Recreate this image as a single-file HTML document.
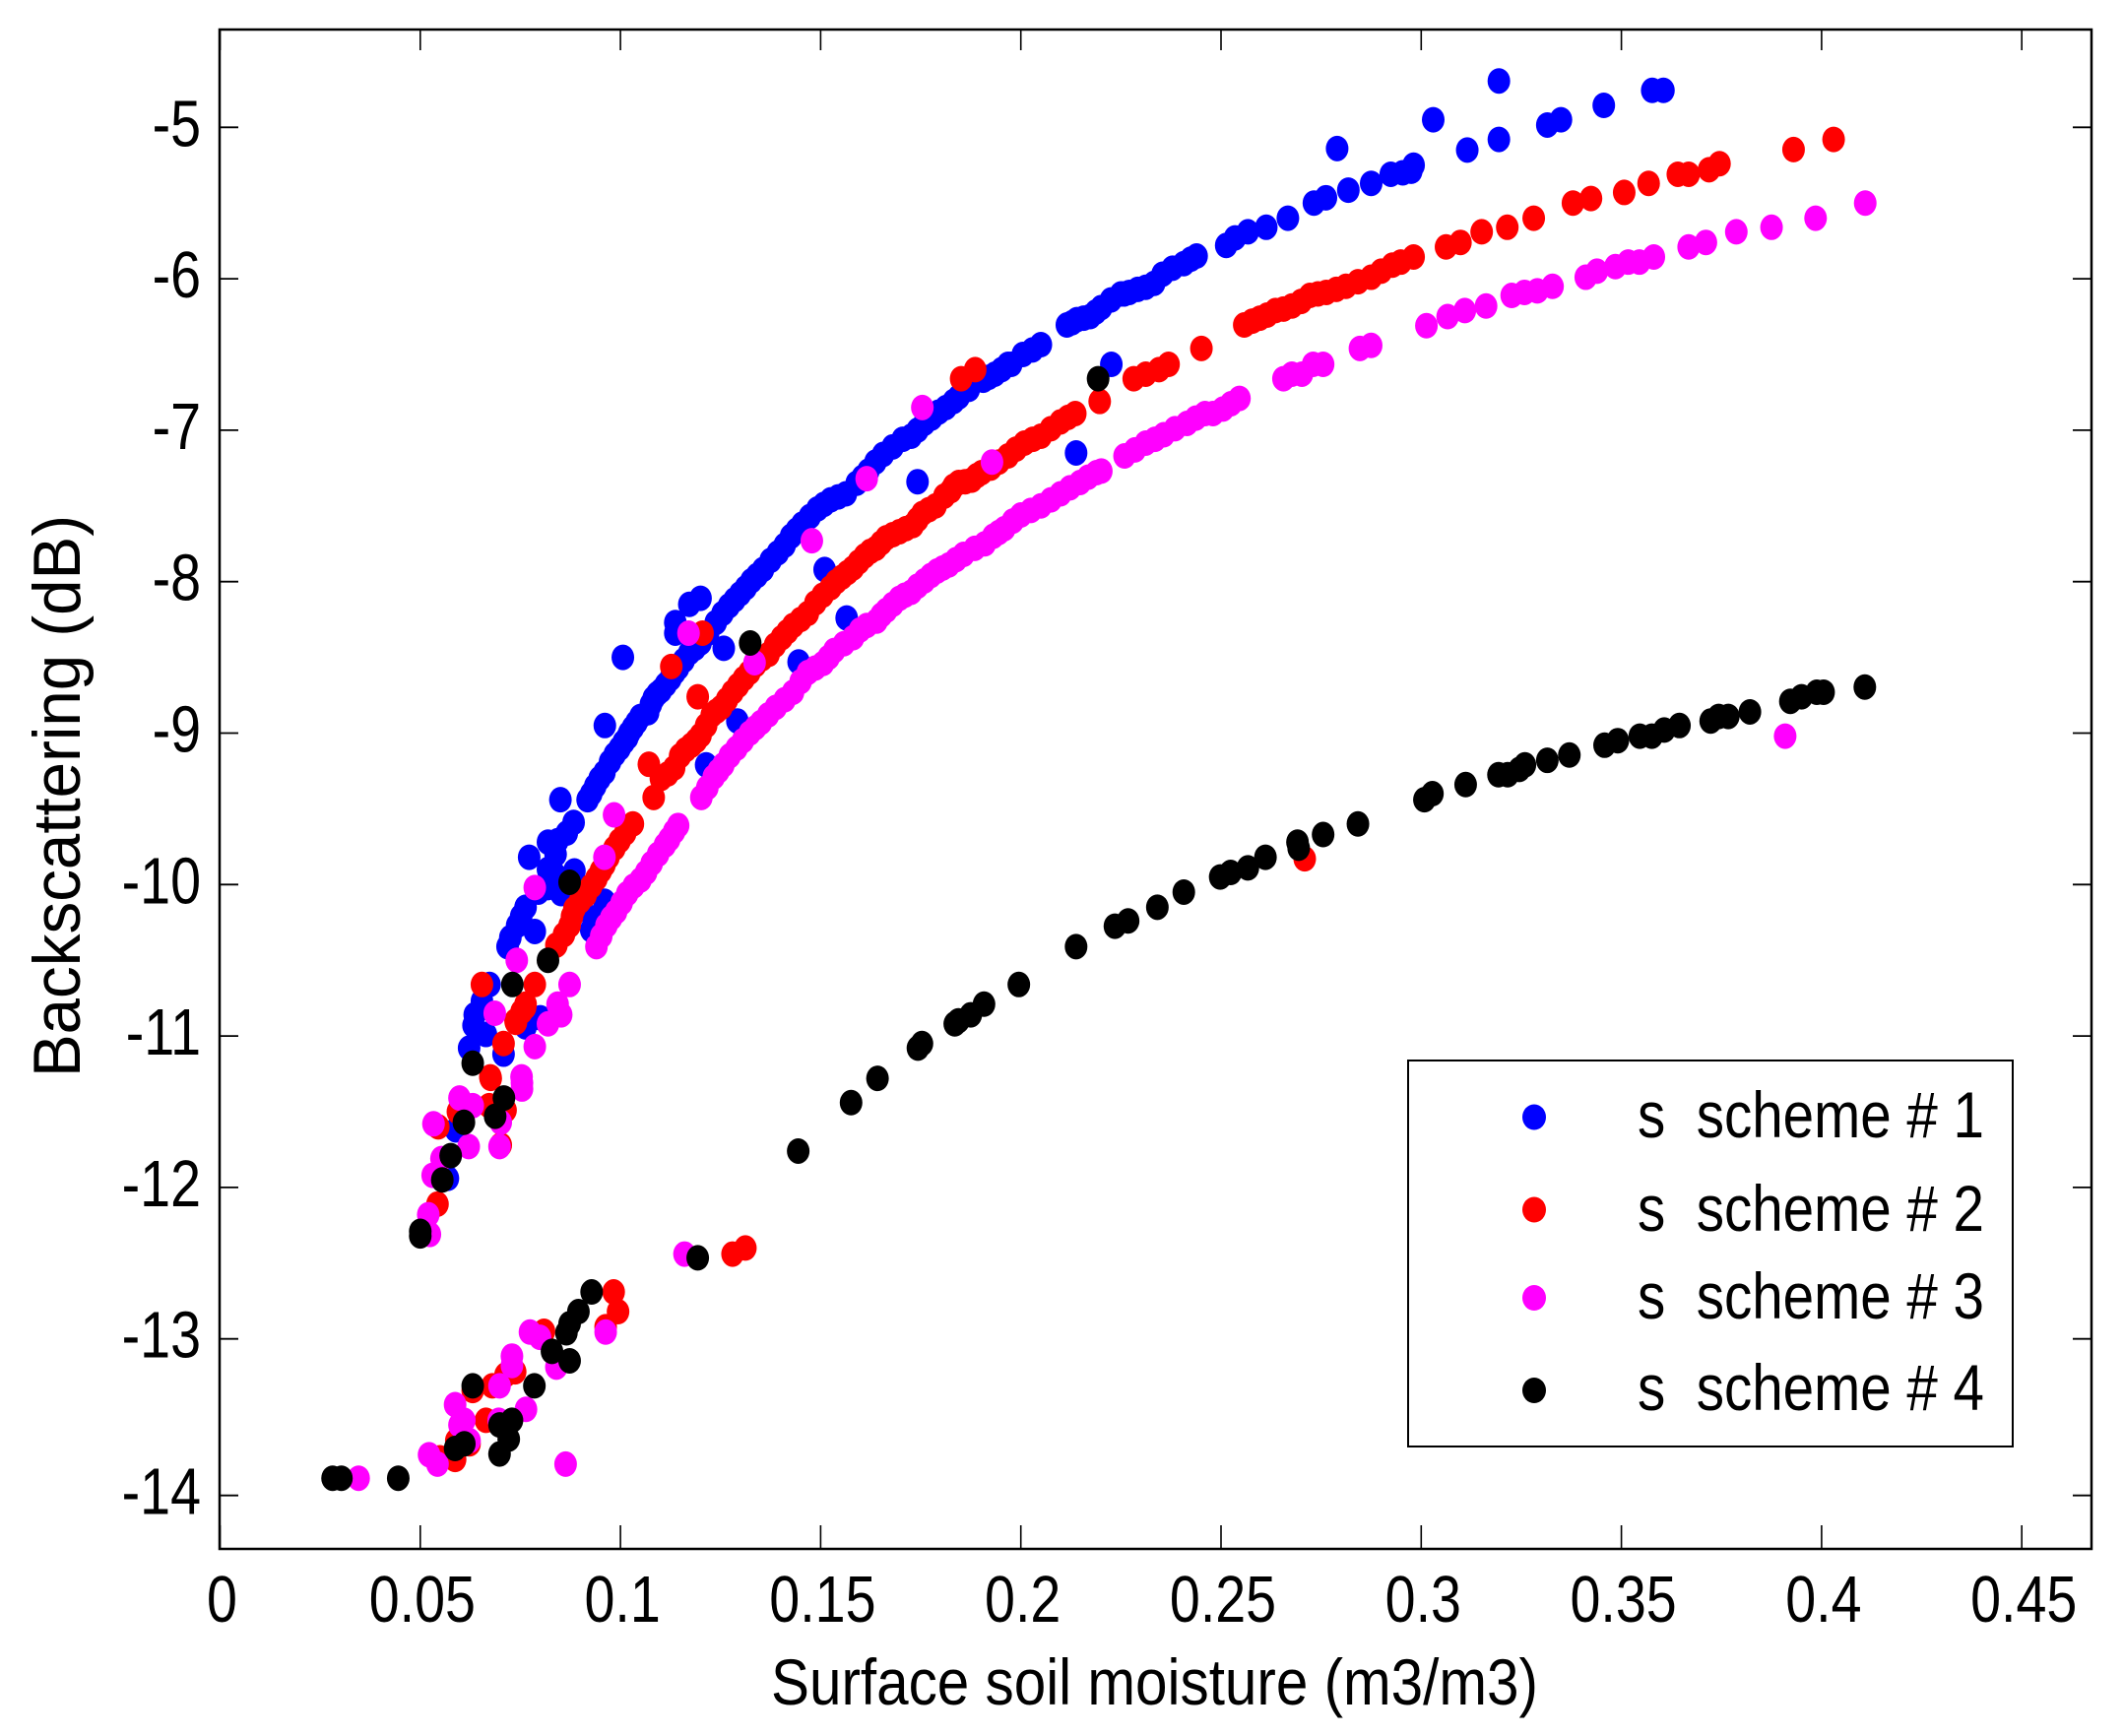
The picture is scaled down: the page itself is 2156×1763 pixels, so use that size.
<!DOCTYPE html>
<html>
<head>
<meta charset="utf-8">
<title>Backscattering vs surface soil moisture</title>
<style>
html,body{margin:0;padding:0;background:#fff;}
svg{display:block;}
text{font-family:"Liberation Sans",Arial,sans-serif;fill:#000;}
</style>
</head>
<body>
<svg id="chart" xmlns="http://www.w3.org/2000/svg" width="2156" height="1763" viewBox="0 0 2156 1763">
<rect x="0" y="0" width="2156" height="1763" fill="#fff"/>
<g id="ticks"></g>
<g id="marks"></g>
<rect x="223" y="30" width="1901" height="1543" fill="none" stroke="#000" stroke-width="2.5"/>
<g id="labels"></g>
<text x="783" y="1731" font-size="66" textLength="779" lengthAdjust="spacingAndGlyphs">Surface soil moisture (m3/m3)</text>
<text transform="translate(81,1094) rotate(-90)" font-size="68" textLength="571" lengthAdjust="spacingAndGlyphs">Backscattering (dB)</text>
<g id="legend">
<rect x="1430" y="1077" width="614" height="392" fill="#fff" stroke="#000" stroke-width="2"/>
</g>
</svg>
<script>
const xTickValues = [0, 0.05, 0.1, 0.15, 0.2, 0.25, 0.3, 0.35, 0.4, 0.45];
const xTickLabels = ["0", "0.05", "0.1", "0.15", "0.2", "0.25", "0.3", "0.35", "0.4", "0.45"];
const yTickValues = [-5, -6, -7, -8, -9, -10, -11, -12, -13, -14];
const yTickLabels = ["-5", "-6", "-7", "-8", "-9", "-10", "-11", "-12", "-13", "-14"];
const legendLabels = ["s\u00a0\u00a0scheme # 1", "s\u00a0\u00a0scheme # 2", "s\u00a0\u00a0scheme # 3", "s\u00a0\u00a0scheme # 4"];
const seriesColors = ["#0000ff", "#ff0000", "#ff00ff", "#000000"];

const schemeOne = [
[.1006,-8.5],[.0961,-8.95],[.085,-9.44],[.12,-8.11],[.1172,-8.15],[.1137,-8.27],[.1137,-8.34],[.1258,-8.44],[.1292,-8.92],[.1445,-8.53],[.151,-7.92],[.1565,-8.24],[.1214,-9.21],
[.0918,-9.44],[.0927,-9.4],[.0937,-9.35],[.0948,-9.3],[.096,-9.26],[.0974,-9.19],[.0986,-9.14],[.0998,-9.1],[.1008,-9.06],[.1017,-9.03],[.1022,-9.0],[.1031,-8.965],[.104,-8.93],[.105,-8.89],[.1069,-8.865],[.1076,-8.81],[.1083,-8.77],[.1092,-8.74],[.1101,-8.72],[.1113,-8.68],[.1125,-8.64],[.1135,-8.6],[.1144,-8.57],[.1158,-8.52],[.1172,-8.47],[.1186,-8.44],[.12,-8.405],[.1219,-8.34],[.1238,-8.27],[.1255,-8.21],[.1271,-8.16],[.1285,-8.12],[.1299,-8.08],[.1313,-8.04],[.1327,-7.995],[.1341,-7.96],[.1356,-7.92],[.1375,-7.86],[.1393,-7.81],[.141,-7.76],[.1426,-7.7],[.144,-7.66],[.1454,-7.62],[.1473,-7.57],[.1492,-7.52],[.1508,-7.49],[.1525,-7.46],[.1544,-7.44],[.1563,-7.42],[.159,-7.35],[.1605,-7.31],
[.0883,-9.59],[.0866,-9.66],[.0819,-9.72],[.0843,-9.71],[.0772,-9.82],[.0838,-9.8],[.0819,-9.9],[.0835,-9.93],[.0885,-9.91],[.0852,-10.06],[.0819,-10.02],[.0795,-10.05],[.0763,-10.15],[.0752,-10.21],[.0742,-10.27],[.0725,-10.35],[.0786,-10.31],[.0718,-10.41],[.096,-10.11],[.0932,-10.22],[.0927,-10.3],
[.0673,-10.66],[.0654,-10.77],[.0636,-10.86],[.0633,-10.93],[.0664,-10.99],[.0622,-11.08],[.0708,-11.12],[.08,-10.88],[.0763,-10.94],[.0589,-11.62],[.0569,-11.94],
[.1619,-7.27],[.1637,-7.21],[.1656,-7.16],[.168,-7.11],[.1705,-7.06],[.1726,-7.04],[.1742,-7.0],[.1759,-6.955],[.1777,-6.92],[.1795,-6.88],[.1813,-6.85],[.1832,-6.81],[.1845,-6.78],[.187,-6.73],[.1906,-6.67],[.192,-6.65],[.1935,-6.63],[.1952,-6.6],[.1968,-6.565],[.1976,-6.565],[.2005,-6.5],[.2029,-6.47],[.205,-6.435],[.2115,-6.305],[.2128,-6.29],[.214,-6.27],[.2157,-6.26],[.2173,-6.25],[.2187,-6.22],[.2201,-6.19],[.2225,-6.14],[.225,-6.1],[.2258,-6.1],[.2271,-6.09],[.2292,-6.07],[.2312,-6.056],[.2333,-6.03],[.2354,-5.97],[.2379,-5.93],[.2407,-5.9],[.2425,-5.87],
[.1742,-7.34],[.2138,-7.15],[.2226,-6.565],
[.2439,-5.85],[.2513,-5.78],[.2535,-5.73],[.2567,-5.69],[.2613,-5.66],[.2667,-5.6],[.2732,-5.5],[.2762,-5.465],[.279,-5.14],[.2818,-5.415],[.2875,-5.37],[.2924,-5.31],[.2954,-5.3],[.2981,-5.25],[.2975,-5.29],
[.303,-4.95],[.3115,-5.15],[.3194,-5.08],[.3194,-4.694],[.3315,-4.985],[.3349,-4.95],[.3456,-4.855],[.3577,-4.756],[.3605,-4.756]
];

const schemeTwo = [
[.0654,-10.66],[.0786,-10.66],[.0763,-10.79],[.0753,-10.84],[.0739,-10.91],[.0708,-11.05],[.0675,-11.27],[.084,-10.4],[.0859,-10.33],[.0873,-10.27],[.0879,-10.21],[.0885,-10.16],[.0899,-10.11],[.0913,-10.07],[.0927,-10.01],[.094,-9.96],[.0951,-9.91],[.096,-9.87],[.097,-9.82],[.0985,-9.76],[.0998,-9.71],[.1012,-9.66],[.1031,-9.6],
[.1083,-9.425],[.1071,-9.206],[.1101,-9.3],[.1118,-9.27],[.1134,-9.23],[.1149,-9.15],[.1163,-9.11],[.1177,-9.08],[.1189,-9.05],[.12,-9.015],[.1214,-8.95],[.1228,-8.88],[.124,-8.855],[.1193,-8.76],[.1252,-8.83],[.1266,-8.78],[.128,-8.73],[.1294,-8.685],[.1308,-8.64],[.1322,-8.6],[.1337,-8.55],[.1353,-8.51],[.137,-8.48],[.1386,-8.42],[.1403,-8.37],[.1417,-8.33],[.1431,-8.29],[.145,-8.25],[.1468,-8.21],[.1487,-8.14],[.1505,-8.09],[.1525,-8.04],[.1539,-8.0],[.1553,-7.97],[.1567,-7.94],[.1581,-7.91],[.1595,-7.87],[.161,-7.83],[.1624,-7.8],[.1638,-7.78],[.1651,-7.745],[.1664,-7.71],[.168,-7.69],[.1697,-7.67],[.1713,-7.65],[.173,-7.63],[.1742,-7.59],[.1754,-7.55],[.177,-7.525],[.1787,-7.5],[.1809,-7.435],[.1825,-7.4],[.1832,-7.37],[.1845,-7.345],[.1861,-7.34],[.1877,-7.33],[.189,-7.3],[.1902,-7.28],[.1925,-7.25],[.1945,-7.21],[.1968,-7.17],[.1988,-7.125],[.2009,-7.085],[.203,-7.06],[.205,-7.04],[.2075,-6.99],[.2099,-6.945],[.2118,-6.915],[.2136,-6.89],[.2197,-6.81],
[.1127,-8.56],[.1205,-8.34],[.1851,-6.66],[.1886,-6.6],
[.2282,-6.66],[.2312,-6.63],[.2345,-6.6],[.2369,-6.565],[.2451,-6.46],[.2558,-6.305],[.2578,-6.28],[.2597,-6.26],[.2615,-6.24],[.2636,-6.21],[.2656,-6.2],[.2677,-6.18],[.27,-6.15],[.2722,-6.11],[.2742,-6.1],[.2763,-6.09],[.2788,-6.07],[.2812,-6.05],[.2842,-6.02],[.2875,-5.99],[.29,-5.95],[.2928,-5.91],[.2949,-5.89],[.2981,-5.856],[.3062,-5.79],[.3098,-5.76],[.3151,-5.69],[.3215,-5.66],[.3281,-5.6],[.3379,-5.5],[.3424,-5.47],[.3507,-5.43],[.3568,-5.37],[.3641,-5.31],[.3668,-5.31],[.3719,-5.28],[.3745,-5.24],[.393,-5.147],[.403,-5.08],
[.2709,-9.83],
[.0983,-12.69],[.0994,-12.82],[.0963,-12.92],[.0809,-12.95],[.0737,-13.21],[.0713,-13.23],[.068,-13.3],[.0631,-13.33],[.0664,-13.52],[.059,-13.65],[.0623,-13.67],[.0587,-13.77],[.0549,-13.76],
[.0676,-11.28],[.0672,-11.46],[.0713,-11.49],[.0594,-11.5],[.0545,-11.6],[.0701,-11.72],[.0543,-12.11],[.128,-12.44],[.1312,-12.4],[.0762,-10.81],[.0738,-10.9]
];

const schemeThree = [
[.094,-10.41],[.0952,-10.34],[.0965,-10.27],[.0977,-10.22],[.0989,-10.18],[.1003,-10.12],[.1017,-10.06],[.1033,-10.01],[.105,-9.97],[.1064,-9.92],[.1078,-9.86],[.1094,-9.8],[.1111,-9.74],[.1122,-9.7],[.1134,-9.65],[.1144,-9.61],
[.1202,-9.425],[.1217,-9.36],[.1233,-9.29],[.1245,-9.25],[.1257,-9.21],[.1273,-9.15],[.129,-9.1],[.1306,-9.05],[.1323,-9.0],[.1337,-8.965],[.1351,-8.93],[.1369,-8.88],[.1388,-8.83],[.141,-8.78],[.1431,-8.73],[.145,-8.66],[.1468,-8.6],[.1487,-8.57],[.1506,-8.54],[.152,-8.5],[.1534,-8.455],[.1558,-8.41],[.1581,-8.37],[.1598,-8.32],[.1615,-8.29],[.164,-8.26],[.1652,-8.22],[.1664,-8.19],[.168,-8.15],[.1697,-8.11],[.171,-8.09],[.1726,-8.07],[.1742,-8.03],[.1759,-7.995],[.1775,-7.96],[.1791,-7.93],[.1805,-7.91],[.182,-7.89],[.1838,-7.855],[.1857,-7.82],[.1885,-7.78],[.191,-7.75],[.1931,-7.7],[.1945,-7.675],[.1959,-7.65],[.198,-7.6],[.2,-7.56],[.2025,-7.53],[.205,-7.5],[.2075,-7.46],[.2099,-7.42],[.2123,-7.38],[.2148,-7.345],[.2168,-7.31],[.2189,-7.28],[.2201,-7.27],
[.2259,-7.17],[.2285,-7.13],[.2312,-7.085],[.2335,-7.06],[.2357,-7.03],[.2385,-6.99],[.2415,-6.955],[.2437,-6.92],[.246,-6.89],[.248,-6.89],[.2505,-6.86],[.2525,-6.825],[.2546,-6.79],
[.2656,-6.66],[.2677,-6.63],[.2702,-6.63],[.273,-6.565],[.2755,-6.565],[.2847,-6.46],[.2875,-6.44],[.3013,-6.31],[.3066,-6.25],[.3109,-6.21],[.3162,-6.18],[.3226,-6.11],[.3258,-6.09],[.329,-6.08],[.3328,-6.05],[.3411,-5.99],[.3439,-5.95],[.3485,-5.92],[.3517,-5.89],[.3545,-5.89],[.3581,-5.856],[.3668,-5.79],[.3711,-5.76],[.3787,-5.69],[.3875,-5.66],[.3985,-5.6],[.4109,-5.5],
[.1478,-7.73],[.1335,-8.535],[.117,-8.34],[.0984,-9.54],[.096,-9.82],[.0786,-10.02],[.0741,-10.5],[.0873,-10.66],[.0843,-10.79],[.0819,-10.92],[.0852,-10.86],[.0786,-11.07],[.0686,-10.85],[.0753,-11.27],[.1754,-6.85],[.1928,-7.21],[.1615,-7.32],[.3909,-9.02],
[.0598,-11.41],[.0631,-11.46],[.0533,-11.58],[.0701,-11.57],[.0621,-11.73],[.0698,-11.73],[.0553,-11.81],[.0531,-11.92],[.052,-12.18],[.0524,-12.31],[.0754,-11.31],[.0754,-11.35],[.116,-12.44],
[.0963,-12.955],[.0774,-12.955],[.0799,-12.99],[.0729,-13.11],[.0729,-13.17],[.0698,-13.3],[.084,-13.18],[.0587,-13.42],[.061,-13.52],[.0598,-13.55],[.0623,-13.65],[.0696,-13.52],[.0764,-13.45],[.0522,-13.74],[.0543,-13.8],[.0863,-13.8],[.0346,-13.89]
];

const schemeFour = [
[.0928,-12.69],[.0895,-12.82],[.0873,-12.9],[.0865,-12.96],[.0829,-13.08],[.0873,-13.14],[.0785,-13.3],[.0631,-13.3],[.0729,-13.52],[.0698,-13.55],[.0721,-13.64],[.0698,-13.735],[.061,-13.67],[.0587,-13.7],[.0281,-13.89],[.0303,-13.89],[.0445,-13.89],
[.0709,-11.41],[.0687,-11.53],[.0609,-11.57],[.0576,-11.79],[.0555,-11.95],[.05,-12.29],[.05,-12.32],[.0631,-11.18],[.1193,-12.465],
[.0873,-9.985],[.0819,-10.5],[.073,-10.66],[.1324,-8.405],[.2193,-6.66],
[.1444,-11.76],[.1576,-11.44],[.1642,-11.28],[.1743,-11.08],[.1753,-11.05],[.1835,-10.92],[.1844,-10.9],[.1875,-10.86],[.1908,-10.79],[.1995,-10.66],[.2138,-10.41],[.2235,-10.275],[.2268,-10.24],[.2341,-10.15],[.2407,-10.05],[.2498,-9.95],[.2524,-9.92],[.2567,-9.89],[.2611,-9.82],[.2694,-9.76],[.2691,-9.72],[.2755,-9.67],
[.2842,-9.6],[.3008,-9.44],[.3028,-9.4],[.3111,-9.34],[.3193,-9.275],[.3216,-9.275],[.3245,-9.24],[.3259,-9.21],[.3315,-9.18],[.337,-9.145],[.3458,-9.08],[.3491,-9.05],[.3546,-9.02],[.3576,-9.02],[.3607,-8.98],[.3645,-8.95],[.3723,-8.92],[.3743,-8.89],[.3767,-8.89],[.3821,-8.86],[.3922,-8.79],[.395,-8.76],[.3988,-8.73],[.4005,-8.73],[.4108,-8.696]
];

const allSeries = [schemeOne, schemeTwo, schemeThree, schemeFour];

const NS = "http://www.w3.org/2000/svg";
function xScale(v) { return 223.5 + 4066 * v; }
function yScale(v) {
  // The reference's lowest decade is drawn slightly taller than the others.
  if (v >= -13) return 129.3 + (-5 - v) * 153.8;
  return 1359.7 + (-13 - v) * 159;
}
function make(tag, attrs, parent) {
  const el = document.createElementNS(NS, tag);
  for (const k in attrs) el.setAttribute(k, attrs[k]);
  parent.appendChild(el);
  return el;
}

const marks = document.getElementById("marks");
const ticks = document.getElementById("ticks");
const labels = document.getElementById("labels");
const legend = document.getElementById("legend");

xTickValues.forEach(function (v, i) {
  const x = xScale(v);
  const t1 = make("line", {x1: x, x2: x, y1: 1573, y2: 1549, stroke: "#000", "stroke-width": 1.6}, ticks);
  
  
  const t2 = make("line", {x1: x, x2: x, y1: 30, y2: 51, stroke: "#000", "stroke-width": 1.6}, ticks);
  
  
  const lab = make("text", {transform: "translate(" + (x + 2) + ",1647) scale(.83,1)", "text-anchor": "middle", "font-size": 67}, labels);
  lab.textContent = xTickLabels[i];
  
  
});

yTickValues.forEach(function (v, i) {
  const y = yScale(v);
  const t1 = make("line", {x1: 223, x2: 242, y1: y, y2: y, stroke: "#000", "stroke-width": 1.8}, ticks);
  
  
  const t2 = make("line", {x1: 2105, x2: 2124, y1: y, y2: y, stroke: "#000", "stroke-width": 1.8}, ticks);
  
  
  const lab = make("text", {transform: "translate(204," + (y + 19) + ") scale(.83,1)", "text-anchor": "end", "font-size": 67}, labels);
  lab.textContent = yTickLabels[i];
  
  
});

allSeries.forEach(function (points, s) {
  points.forEach(function (p) {
    const dot = make("ellipse", {cx: xScale(p[0]), cy: yScale(p[1]), rx: 11.5, ry: 13, fill: seriesColors[s]}, marks);
    
    
  });
});

const legendDotY = [1134.5, 1228.5, 1318, 1412];
const legendTextY = [1155, 1250, 1339, 1432];
legendLabels.forEach(function (name, i) {
  const dot = make("ellipse", {cx: 1558, cy: legendDotY[i], rx: 12, ry: 13, fill: seriesColors[i]}, legend);
  
  
  const txt = make("text", {x: 1663, y: legendTextY[i], "font-size": 66, textLength: 352, lengthAdjust: "spacingAndGlyphs"}, legend);
  txt.textContent = name;
  
  
});
</script>
</body>
</html>
